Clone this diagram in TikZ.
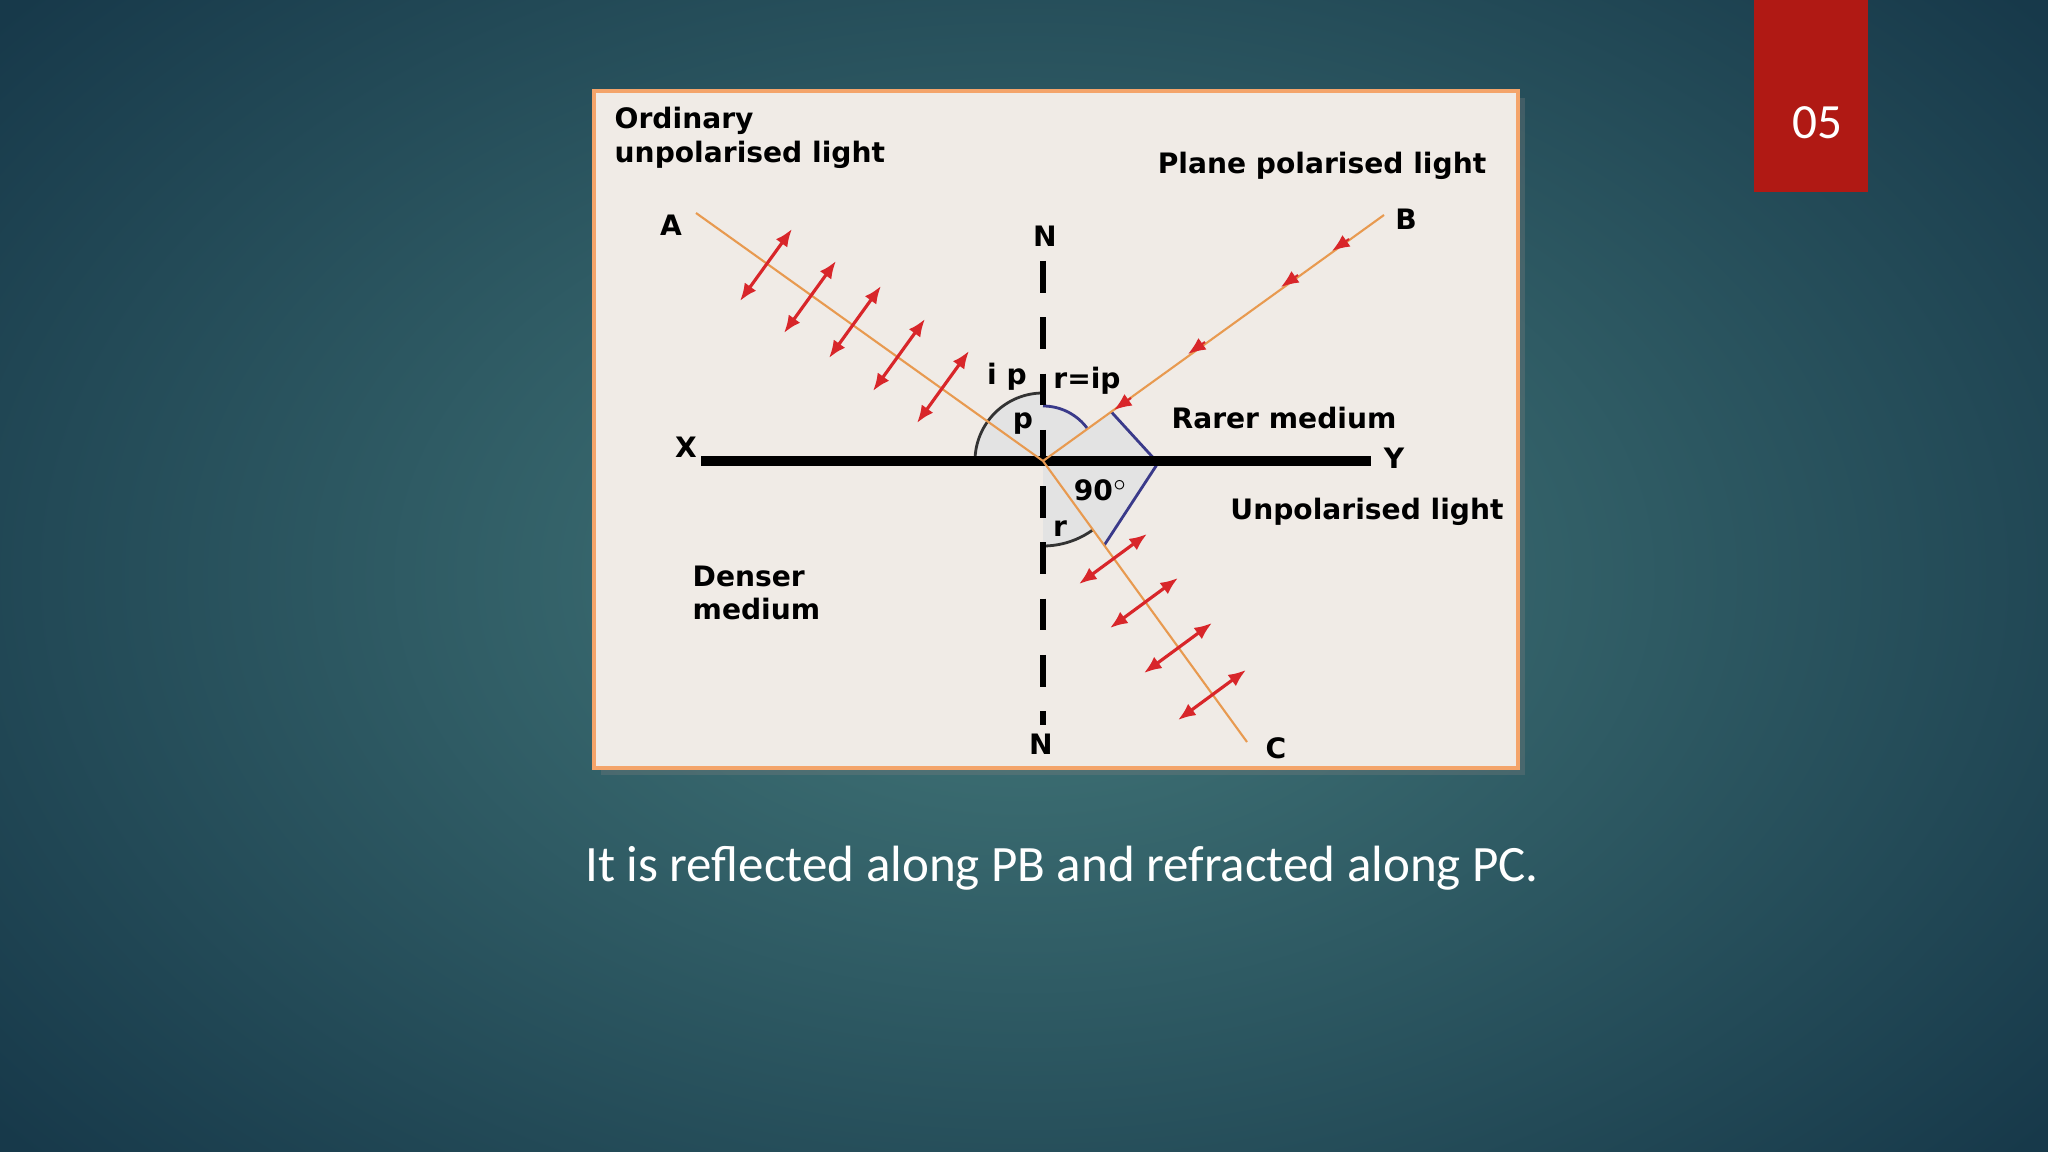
\documentclass[tikz,border=0pt]{standalone}
\usepackage{fontspec}
\setmainfont{DejaVu Sans}
\newfontfamily\capfont{Carlito}
\usetikzlibrary{arrows.meta,calc,shadows}
\definecolor{bgc}{HTML}{2F6A6C}
\definecolor{bge}{HTML}{17394A}
\definecolor{boxred}{HTML}{B01914}
\definecolor{panel}{HTML}{F0EBE6}
\definecolor{pborder}{HTML}{F4A46A}
\definecolor{ray}{HTML}{E89A50}
\definecolor{pol}{HTML}{D8262A}
\definecolor{arcblue}{HTML}{3A3A8A}
\tikzset{
  lbl/.style={font=\bfseries\fontsize{8}{9.5}\selectfont, text=black, inner sep=0pt},
  rayl/.style={draw=ray, line width=0.6pt},
  polar/.style={draw=pol, line width=0.9pt, {Latex[length=5pt,width=4pt]}-{Latex[length=5pt,width=4pt]}},
  tip/.style={draw=pol, line width=0.6pt, -{Latex[length=5pt,width=4pt]}}
}
\begin{document}
\begin{tikzpicture}[x=0.01cm,y=-0.01cm]
\useasboundingbox (0,0) rectangle (2048,1152);
\shade[inner color=bgc!90!white, outer color=bge] (-300,-300) rectangle (2348,1452);
\fill[boxred] (1754,0) rectangle (1868,192);
\node[text=white, font=\capfont\fontsize{14}{16}\selectfont] (num) at (1817,123) {05};
% panel
\filldraw[fill=panel, draw=pborder, line width=1.2pt, drop shadow={opacity=0.3,shadow xshift=2pt,shadow yshift=-2pt}] (594,91) rectangle (1518,768);
% points
\coordinate (P) at (1043,461);
\coordinate (A) at (696,213);
\coordinate (B) at (1384,215);
\coordinate (C) at (1247,742);
\coordinate (Xl) at (701,461);
\coordinate (Yr) at (1371,461);
\coordinate (Nt) at (1043,261);
\coordinate (Nb) at (1043,725);
\coordinate (K) at (1158,463);
% shaded angles (y axis points down: angles are mirrored)
\fill[gray!22] (P) -- ++(180:68) arc[start angle=180,end angle=270,radius=68] -- cycle;
\fill[gray!22] (P) -- ($(P)!0.2!(B)$) -- (K) -- ($(P)!0.3!(C)$) -- cycle;
\fill[gray!22] (P) -- ++(54:85) arc[start angle=54,end angle=90,radius=85] -- cycle;
\fill[gray!22] (P) -- ++(270:55) arc[start angle=270,end angle=324,radius=55] -- cycle;
\draw[black!80, line width=0.8pt] (P) ++(180:68) arc[start angle=180,end angle=270,radius=68];
\draw[arcblue, line width=0.8pt] (P) ++(270:55) arc[start angle=270,end angle=324,radius=55];
\draw[arcblue, line width=0.8pt] ($(P)!0.2!(B)$) -- (K) -- ($(P)!0.3!(C)$);
\draw[black!80, line width=0.8pt] (P) ++(54:85) arc[start angle=54,end angle=90,radius=85];
% surface and normal
\draw[line width=2.6pt] (Xl) -- (Yr);
\draw[line width=1.8pt, dash pattern=on 9pt off 7pt] (Nt) -- (Nb);
% rays
\draw[rayl] (A) -- (P);
\draw[rayl] (P) -- (B);
\draw[rayl] (P) -- (C);
% polarisation arrows on incident ray
\foreach \cx/\cy in {766/265,810/297,855/322,899/355,943/387}{
  \draw[polar] (\cx-26,\cy+36) -- (\cx+26,\cy-36);
}
% refracted
\foreach \cx/\cy in {1113/559,1144/603,1178/648,1212/695}{
  \draw[polar] (\cx-34,\cy+25) -- (\cx+34,\cy-25);
}
% reflected
\foreach \cx/\cy in {1117/408,1191/352,1284/285,1335/249}{
  \draw[tip] (\cx+14,\cy-10) -- (\cx-3,\cy+2);
}
% labels
\node[lbl, anchor=west, align=left] (t1) at (614,138) {Ordinary\\unpolarised light};
\node[lbl] (t2) at (1322,166) {Plane polarised light};
\node[lbl] (t3) at (1284,418) {Rarer medium};
\node[lbl] (t4) at (1367,512) {Unpolarised light};
\node[lbl, anchor=west, align=left] (t5) at (692,593) {Denser\\medium};
\node[lbl] (la) at (671,225) {A};
\node[lbl] (lb) at (1406,219) {B};
\node[lbl] (lc) at (1276,748) {C};
\node[lbl] (lx) at (686,447) {X};
\node[lbl] (ly) at (1394,458) {Y};
\node[lbl] (ln1) at (1045,236) {N};
\node[lbl] (ln2) at (1041,744) {N};
\node[lbl] (ip) at (1007,377) {i p};
\node[lbl] (rip) at (1087,381) {r=ip};
\node[lbl] (pp) at (1023,424) {p};
\node[lbl] (ninety) at (1101,490) {90$^{\circ}$};
\node[lbl] (rr) at (1060,529) {r};
\node[text=white, font=\capfont\fontsize{14.5}{17}\selectfont] (cap) at (1062,868) {It is reflected along PB and refracted along PC.};
\end{tikzpicture}
\end{document}
